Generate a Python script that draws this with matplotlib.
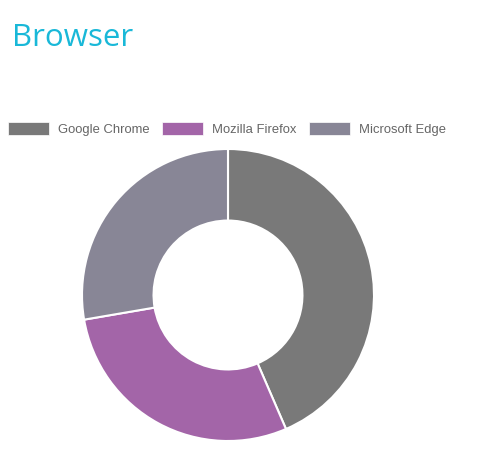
import matplotlib.pyplot as plt
from matplotlib.patches import Patch

# browser share (read from the donut)
browsers = ['Google Chrome', 'Mozilla Firefox', 'Microsoft Edge']
shares = [43.5, 28.8, 27.7]
colors = ['#797979', '#a365a8', '#888696']

W, H = 480, 470
fig = plt.figure(figsize=(W / 100, H / 100), dpi=100)

# title
fig.text(12 / W, 1 - 46 / H, 'Browser', color='#19b8d8', fontsize=22.5,
         family=['Open Sans', 'DejaVu Sans'], ha='left', va='baseline')

# donut, centre at (228, 295) px
cx, cy, r = 228, 295, 146
ax = fig.add_axes([(cx - r) / W, (H - cy - r) / H, 2 * r / W, 2 * r / H])
ax.pie(shares, colors=colors, startangle=90, counterclock=False, radius=1,
       wedgeprops=dict(width=0.49, edgecolor='white', linewidth=1.5))
ax.set_xlim(-1, 1)
ax.set_ylim(-1, 1)
ax.axis('off')

# legend across the top
handles = [Patch(facecolor=c, edgecolor='white', linewidth=0.5) for c in colors]
fig.legend(handles, browsers, loc='center left', ncol=3,
           bbox_to_anchor=(8 / W, 1 - 129 / H), frameon=False,
           prop=dict(family=['Liberation Sans', 'DejaVu Sans'], size=9.4),
           labelcolor='#666666', handlelength=3.15, handleheight=1.15,
           handletextpad=0.7, columnspacing=0.92, borderpad=0, borderaxespad=0)

fig.savefig('out.png', dpi=100, facecolor='white')
